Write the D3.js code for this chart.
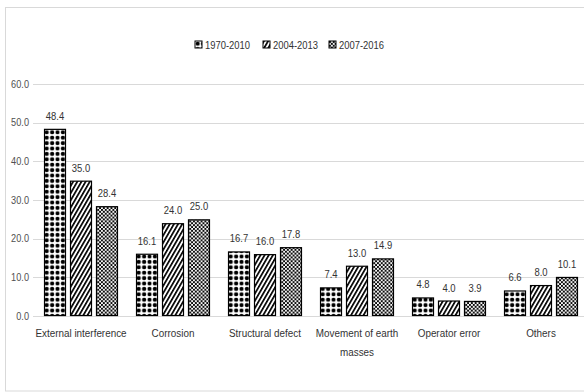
<!DOCTYPE html>
<html>
<head>
<meta charset="utf-8">
<script src="https://cdn.jsdelivr.net/npm/d3@7"></script>
<style>
  body { margin: 0; background: #fff; }
  text { font-family: "Liberation Sans Narrow", "Arial Narrow", "Liberation Sans", sans-serif; }
</style>
</head>
<body>
<svg id="chart"></svg>
<script>
const categories = ["External interference", "Corrosion", "Structural defect", "Movement of earth masses", "Operator error", "Others"];
const seriesNames = ["1970-2010", "2004-2013", "2007-2016"];
const s1970 = [48.4, 16.1, 16.7, 7.4, 4.8, 6.6];
const s2004 = [35.0, 24.0, 16.0, 13.0, 4.0, 8.0];
const s2007 = [28.4, 25.0, 17.8, 14.9, 3.9, 10.1];
const yTicks = [0, 10, 20, 30, 40, 50, 60];

const W = 584, H = 392;
const values = [s1970, s2004, s2007];

const svg = d3.select("#chart").attr("width", W).attr("height", H);

// fill patterns
const defs = svg.append("defs");
let p1 = defs.append("pattern").attr("id", "pat0").attr("patternUnits", "userSpaceOnUse")
    .attr("width", 5.4).attr("height", 5.4);
p1.append("rect").attr("width", 5.4).attr("height", 5.4).attr("fill", "#fff");
p1.append("circle").attr("cx", 2.7).attr("cy", 2.7).attr("r", 2.1).attr("fill", "#000");

let p2 = defs.append("pattern").attr("id", "pat1").attr("patternUnits", "userSpaceOnUse")
    .attr("width", 3.6).attr("height", 3.6).attr("patternTransform", "rotate(30)");
p2.append("rect").attr("width", 3.6).attr("height", 3.6).attr("fill", "#fff");
p2.append("rect").attr("width", 1.7).attr("height", 3.6).attr("fill", "#000");

let p3 = defs.append("pattern").attr("id", "pat2").attr("patternUnits", "userSpaceOnUse")
    .attr("width", 3.8).attr("height", 3.8);
p3.append("rect").attr("width", 3.8).attr("height", 3.8).attr("fill", "#fff");
p3.append("circle").attr("cx", 0.95).attr("cy", 0.95).attr("r", 1.1).attr("fill", "#000");
p3.append("circle").attr("cx", 2.85).attr("cy", 2.85).attr("r", 1.1).attr("fill", "#000");

// chart border
svg.append("rect")
    .attr("x", 5.5).attr("y", 7.5).attr("width", 620).attr("height", 383.5)
    .attr("fill", "none").attr("stroke", "#d9d9d9");

const x0 = d3.scaleBand().domain(categories).range([35, 587])
    .paddingInner(0.196).paddingOuter(0.098);
const x1 = d3.scaleBand().domain(seriesNames).range([0, x0.bandwidth()])
    .paddingInner(0.154);
const y = d3.scaleLinear().domain([0, 60]).range([316, 84]);

// gridlines
svg.append("g").selectAll("line")
    .data(yTicks)
    .enter()
    .append("line")
    .attr("x1", 33).attr("x2", W)
    .attr("y1", d => Math.round(y(d)) + 0.5)
    .attr("y2", d => Math.round(y(d)) + 0.5)
    .attr("stroke", "#d9d9d9")
    .attr("stroke-width", 1);

// y tick labels
svg.append("g").selectAll("text")
    .data(yTicks)
    .enter()
    .append("text")
    .text(d => d.toFixed(1))
    .attr("transform", d => `translate(29,${y(d)}) scale(0.92,1)`)
    .attr("dy", "0.35em")
    .attr("text-anchor", "end")
    .attr("font-size", "10px")
    .attr("fill", "#505050");

// bars
const groups = svg.append("g").selectAll("g")
    .data(categories)
    .enter()
    .append("g")
    .attr("transform", d => `translate(${x0(d)},0)`);

groups.selectAll("rect")
    .data((c, ci) => seriesNames.map((s, si) => ({ s, si, v: values[si][ci] })))
    .enter()
    .append("rect")
    .attr("x", d => x1(d.s) + 0.5)
    .attr("y", d => y(d.v) + 0.5)
    .attr("width", x1.bandwidth() - 1)
    .attr("height", d => y(0) - y(d.v) - 1)
    .attr("fill", d => `url(#pat${d.si})`)
    .attr("stroke", "#000")
    .attr("stroke-width", 1.2);

groups.selectAll("text")
    .data((c, ci) => seriesNames.map((s, si) => ({ s, si, v: values[si][ci] })))
    .enter()
    .append("text")
    .text(d => d.v.toFixed(1))
    .attr("transform", d => `translate(${x1(d.s) + x1.bandwidth() / 2},${y(d.v) - 9}) scale(0.9,1)`)
    .attr("text-anchor", "middle")
    .attr("font-size", "10.5px")
    .attr("fill", "#333");

// category labels
const catLabels = svg.append("g").selectAll("text")
    .data(categories)
    .enter()
    .append("text")
    .attr("transform", d => `translate(${x0(d) + x0.bandwidth() / 2},337) scale(0.86,1)`)
    .attr("text-anchor", "middle")
    .attr("font-size", "11.5px")
    .attr("fill", "#333");

catLabels.each(function (d) {
    const lines = d === "Movement of earth masses" ? ["Movement of earth", "masses"] : [d];
    const t = d3.select(this);
    lines.forEach((ln, i) => {
        t.append("tspan")
            .attr("x", 0)
            .attr("dy", i === 0 ? 0 : 19)
            .text(ln);
    });
});

// legend
const legendX = [195, 263, 329];
const legend = svg.append("g").selectAll("g")
    .data(seriesNames)
    .enter()
    .append("g")
    .attr("transform", (d, i) => `translate(${legendX[i]},41)`);
legend.append("rect")
    .attr("width", 7).attr("height", 7)
    .attr("fill", (d, i) => `url(#pat${i})`)
    .attr("stroke", "#000");
legend.append("text")
    .text(d => d)
    .attr("transform", "translate(10,4) scale(0.82,1)")
    .attr("dy", "0.35em")
    .attr("font-size", "11.5px")
    .attr("fill", "#333");
</script>
</body>
</html>
